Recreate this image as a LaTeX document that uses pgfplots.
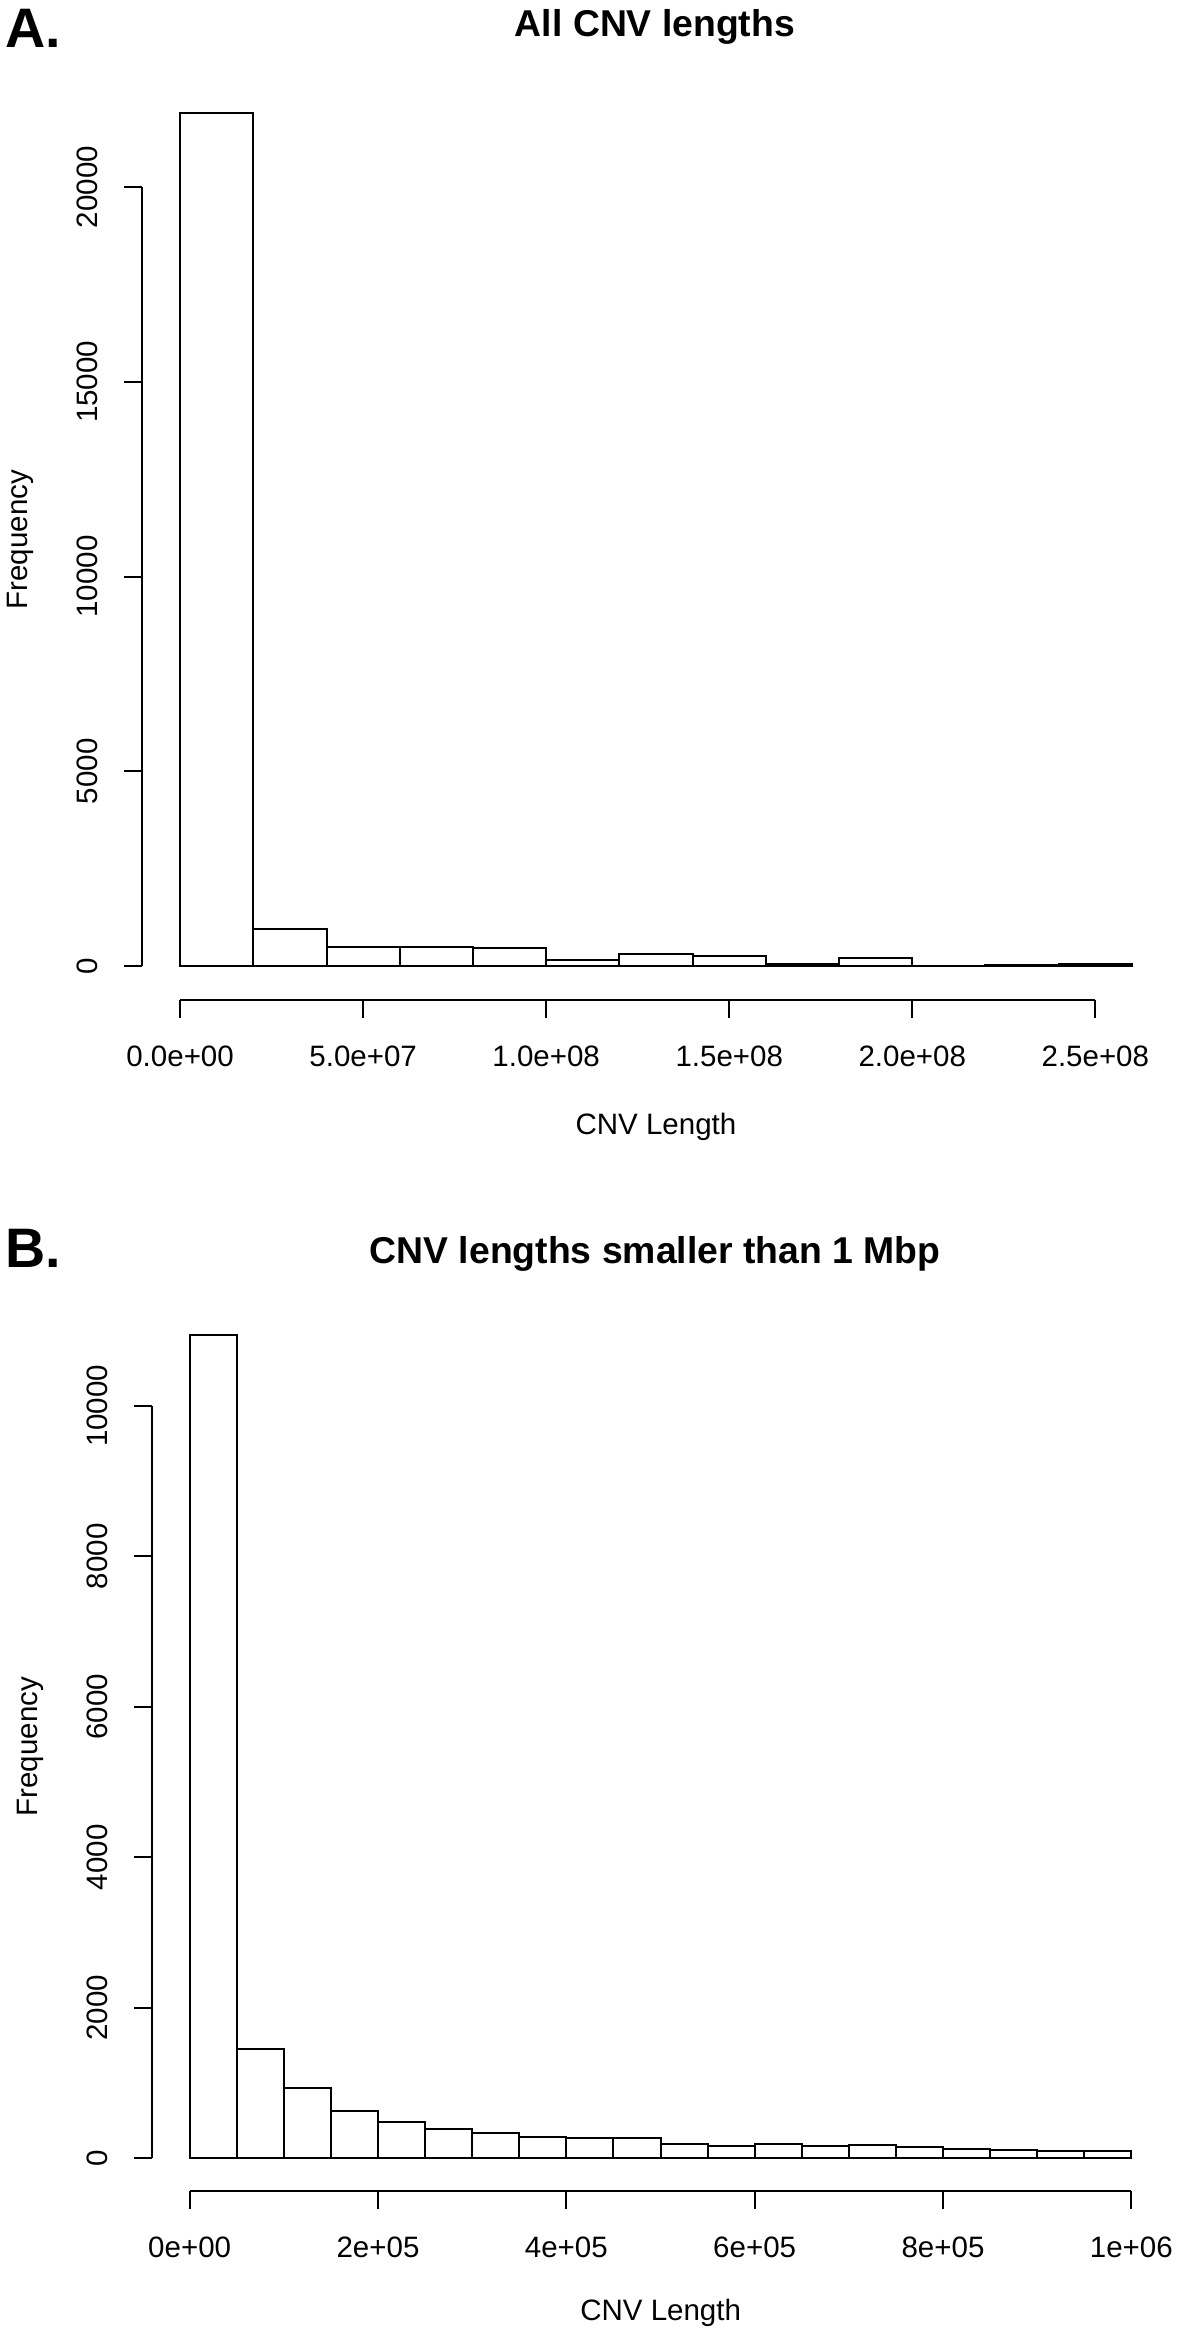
\documentclass[border=0pt]{standalone}
\usepackage{pgfplots}
\pgfplotsset{compat=1.18}
\usepackage{fontspec}
\setmainfont{Liberation Sans}
\pgfplotstableread{
x y
0 21900
2e7 960
4e7 490
6e7 490
8e7 460
1e8 160
1.2e8 300
1.4e8 250
1.6e8 55
1.8e8 210
2e8 5
2.2e8 15
2.4e8 45
2.6e8 0
}\tabA
\pgfplotstableread{
x y
0 10944
5e4 1455
1e5 936
1.5e5 623
2e5 481
2.5e5 381
3e5 330
3.5e5 286
4e5 262
4.5e5 262
5e5 189
5.5e5 167
6e5 191
6.5e5 167
7e5 169
7.5e5 144
8e5 118
8.5e5 108
9e5 93
9.5e5 93
1e6 0
}\tabB
\pgfplotsset{
 rstyle/.style={
  scale only axis,
  axis line style={draw=none},
  tick align=outside,
  major tick length=5.3pt,
  tick style={black, line width=0.6pt},
  xtick pos=left, ytick pos=left,
  tick label style={font=\fontsize{8.85}{10}\selectfont},
  yticklabel style={rotate=90},
  xticklabel shift=5pt, yticklabel shift=4.5pt,
  scaled x ticks=false, scaled y ticks=false,
  clip=false,
 }
}
\begin{document}
\begin{tikzpicture}
\useasboundingbox (0pt,0pt) rectangle (354.3pt,-702pt);
\begin{axis}[rstyle, at={(42.6pt,-300pt)}, anchor=south west, width=308.4pt, height=276.3pt,
 xmin=-1.04e7, xmax=2.704e8, ymin=-876, ymax=22776,
 xtick={0,5e7,1e8,1.5e8,2e8,2.5e8},
 xticklabels={0.0e+00,5.0e+07,1.0e+08,1.5e+08,2.0e+08,2.5e+08},
 ytick={0,5000,10000,15000,20000}, yticklabels={0,5000,10000,15000,20000}]
\addplot[ybar interval, draw=black, fill=white, line width=0.6pt] table[x=x,y=y] {\tabA};
\draw[line width=0.6pt] (axis cs:0,-876) -- (axis cs:2.5e8,-876);
\draw[line width=0.6pt] (axis cs:-1.04e7,0) -- (axis cs:-1.04e7,20000);
\end{axis}
\begin{axis}[rstyle, at={(45.6pt,-657.3pt)}, anchor=south west, width=305.1pt, height=266.7pt,
 xmin=-4e4, xmax=1.04e6, ymin=-438, ymax=11382,
 xtick={0,2e5,4e5,6e5,8e5,1e6},
 xticklabels={0e+00,2e+05,4e+05,6e+05,8e+05,1e+06},
 ytick={0,2000,4000,6000,8000,10000}, yticklabels={0,2000,4000,6000,8000,10000}]
\addplot[ybar interval, draw=black, fill=white, line width=0.6pt] table[x=x,y=y] {\tabB};
\draw[line width=0.6pt] (axis cs:0,-438) -- (axis cs:1e6,-438);
\draw[line width=0.6pt] (axis cs:-4e4,0) -- (axis cs:-4e4,10000);
\end{axis}
\node[anchor=base west, inner sep=0pt, font=\fontsize{16.7}{18}\bfseries\selectfont] at (1.5pt,-14.1pt) {A.};
\node[anchor=base, inner sep=0pt, font=\fontsize{11.2}{12}\bfseries\selectfont] at (196.5pt,-10.8pt) {All CNV lengths};
\node[anchor=base west, inner sep=0pt, font=\fontsize{16.7}{18}\bfseries\selectfont] at (1.5pt,-380.1pt) {B.};
\node[anchor=base, inner sep=0pt, font=\fontsize{11.2}{12}\bfseries\selectfont] at (196.5pt,-378.9pt) {CNV lengths smaller than 1 Mbp};
\node[inner sep=0pt, font=\fontsize{8.85}{10}\selectfont] at (196.8pt,-338.1pt) {CNV Length};
\node[inner sep=0pt, font=\fontsize{8.85}{10}\selectfont] at (198.2pt,-693.9pt) {CNV Length};
\node[inner sep=0pt, rotate=90, font=\fontsize{8.85}{10}\selectfont] at (6pt,-161.9pt) {Frequency};
\node[inner sep=0pt, rotate=90, font=\fontsize{8.85}{10}\selectfont] at (9pt,-524pt) {Frequency};
\end{tikzpicture}
\end{document}
